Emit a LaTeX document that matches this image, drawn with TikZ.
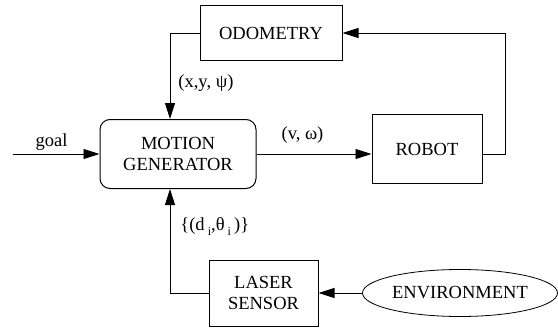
\documentclass[tikz,border=0pt]{standalone}
\usepackage{fontspec}
\setmainfont{Liberation Serif}
\usetikzlibrary{positioning,arrows.meta,shapes,calc}
\tikzstyle{block} = [rectangle, draw, line width=1pt, text centered, inner sep=0pt]
\tikzstyle{gen}   = [block, rounded corners=10pt, minimum width=156pt,
                     minimum height=69pt, align=center]
\tikzstyle{env}   = [ellipse, draw, line width=0.8pt, minimum width=195pt,
                     minimum height=47pt, inner sep=0pt]
\tikzstyle{ptr}   = [draw, line width=0.9pt, -{Triangle[length=16pt,width=10pt]}]
\tikzstyle{lbl}   = [inner sep=0pt]
\newcommand{\sub}[1]{{\fontsize{12}{14}\selectfont\raisebox{-5pt}{#1}}}

\begin{document}
\begin{tikzpicture}[x=1pt, y=1pt, node distance=100pt,
			every node/.style={font=\fontsize{18.5}{21}\selectfont}]
		\useasboundingbox (0,0) rectangle (558,333);
		\node[gen] (mg) at (178,179) {MOTION\\GENERATOR};
		\node[block, minimum width=110pt, minimum height=69pt, right of=mg,
			node distance=249pt, yshift=5pt] (robot) {ROBOT};
		\node[block, minimum width=142pt, minimum height=54pt] (odo) at (271,300) {ODOMETRY};
		\node[block, minimum width=109pt, minimum height=66pt, align=center] (laser) at (263.5,40) {LASER\\SENSOR};
		\node[env, right of=laser, node distance=196.5pt] (env) {ENVIRONMENT};
		\coordinate[left=87pt of mg.west] (goal);

		% inputs of the generator
		\draw[ptr] (goal) -- node[lbl, above=3pt, pos=.45] {goal} (mg.west);
		\draw[ptr] (odo.west) -| node[lbl, right=8pt, pos=.79] {(x,y, ψ)} ($(mg.north)+(-8,0)$);
		\draw[ptr] (laser.west) -| node[lbl, right=10pt, pos=.82]
			{\{(d\,\sub{i},θ\,\sub{i}\,)\}} ($(mg.south)+(-8,0)$);

		% command and feedback
		\draw[ptr] (mg.east) -- node[lbl, above=10pt, pos=.4] {(v, ω)} (mg.east -| robot.west);
		\draw[ptr] (mg.east -| robot.east) -- ++(23,0) |- (odo.east);
		\draw[ptr] (env.west) -- (laser.east);
	\end{tikzpicture}
\end{document}
